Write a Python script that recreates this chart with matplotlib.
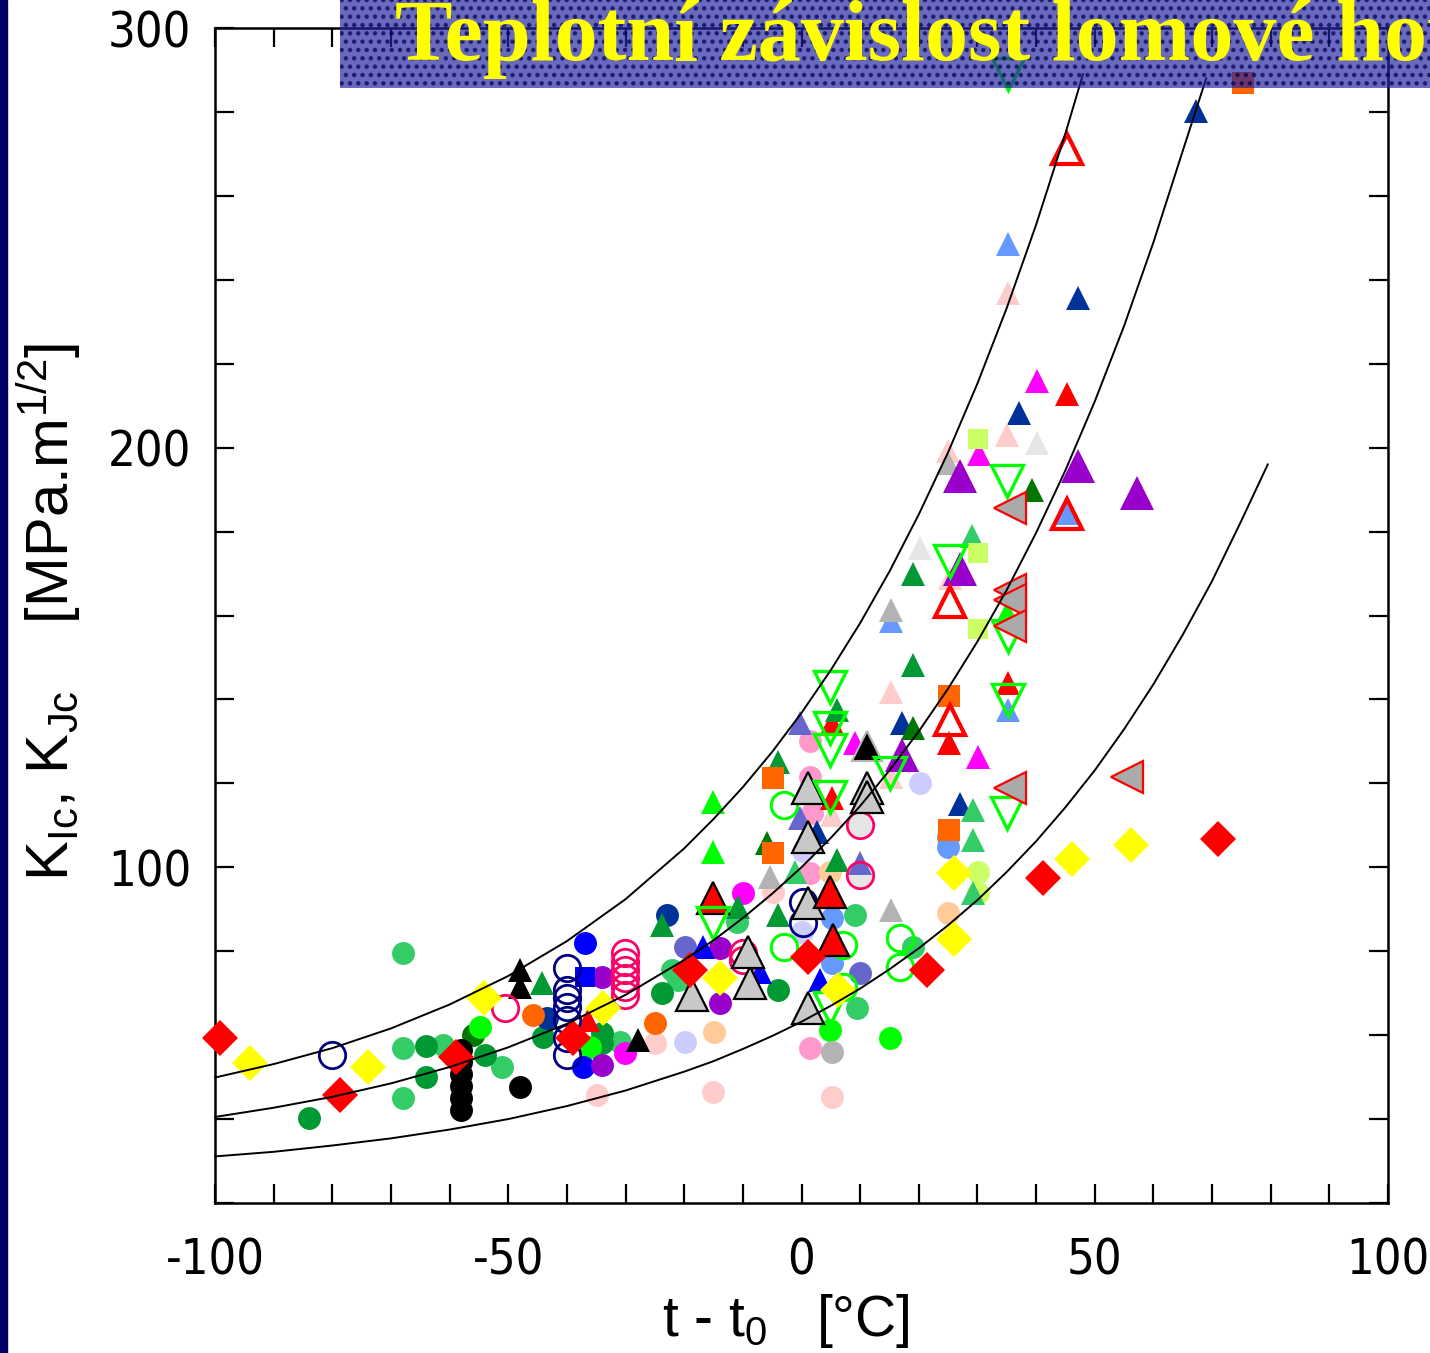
import matplotlib.pyplot as plt
from matplotlib.patches import Rectangle
from matplotlib.ticker import MultipleLocator

plt.rcParams['font.family'] = ['Liberation Sans', 'DejaVu Sans']
plt.rcParams['mathtext.default'] = 'regular'
plt.rcParams['axes.unicode_minus'] = False
plt.rcParams['hatch.linewidth'] = 2.0

# --- master curves (5 %, 50 %, 95 %) ---
upper_t = [-100, -90, -80, -70, -60, -50, -40, -30, -20, -15, -10, -5, 0, 5, 10, 15, 20, 25, 30, 35, 40, 45, 48]
upper_k = [49.9, 53.1, 56.9, 61.6, 67.3, 74.1, 82.4, 92.4, 104.5, 111.5, 119.1, 127.5, 136.8, 147.0, 158.2,
           170.5, 184.1, 198.9, 215.3, 233.3, 253.1, 274.9, 289.0]
median_t = [-100, -90, -80, -70, -60, -50, -40, -30, -20, -15, -10, -5, 0, 5, 10, 15, 20, 25, 30, 35, 40, 45,
            50, 55, 60, 65, 69]
median_k = [40.5, 42.7, 45.3, 48.5, 52.4, 57.1, 62.7, 69.6, 77.9, 82.6, 87.9, 93.7, 100.0, 107.0, 114.6, 123.1,
            132.4, 142.6, 153.8, 166.1, 179.7, 194.6, 211.0, 229.0, 248.9, 270.7, 288.0]
lower_t = [-100, -90, -80, -70, -60, -50, -40, -30, -20, -15, -10, -5, 0, 5, 10, 15, 20, 25, 30, 35, 40, 45,
           50, 55, 60, 65, 70, 75, 79.5]
lower_k = [31.1, 32.2, 33.7, 35.4, 37.5, 40.0, 43.1, 46.8, 51.3, 53.8, 56.7, 59.8, 63.2, 67.0, 71.1, 75.7, 80.7,
           86.2, 92.2, 98.9, 106.2, 114.3, 123.1, 132.9, 143.6, 155.4, 168.2, 182.6, 196.0]

# --- measured points: t - t0 [C] and K [MPa.m^1/2] per data set ---
c_msgreen_t = [-67.9, -67.9, -67.9, -61.1, -51.1, -30.9, -11.0, 9.1, 9.5, 19.0, -21.1, -22.1]
c_msgreen_k = [79.5, 56.9, 45.0, 57.6, 52.4, 58.3, 86.9, 88.6, 66.4, 81.0, 73.1, 75.5]
c_green_t = [-84.0, -64.0, -64.0, -54.0, -44.1, -34.0, -34.0, -23.8, -4.0]
c_green_k = [40.2, 57.4, 50.0, 55.2, 59.5, 60.5, 58.1, 70.0, 70.7]
c_dkgreen_t = [-56.0]
c_dkgreen_k = [60.0]
c_lime_t = [-54.8, -36.1, 4.9, 15.1]
c_lime_k = [61.9, 57.1, 61.2, 59.3]
c_blue_t = [-36.9, -37.3]
c_blue_k = [81.9, 52.4]
c_navy_t = [-22.9, -43.4]
c_navy_k = [88.6, 64.0]
c_purple_t = [-34.0, -34.0, -13.9, -13.9]
c_purple_k = [73.8, 52.9, 80.7, 67.6]
c_magenta_t = [-30.1, -10.0]
c_magenta_k = [55.7, 93.8]
c_hotpink_t = [1.4, 1.4, 1.4, 1.8, 1.4]
c_hotpink_k = [56.9, 130.2, 121.4, 112.9, 98.6]
c_ltpink_t = [-34.9, -25.0, -15.1, 5.2, -4.9]
c_ltpink_k = [45.7, 58.1, 46.4, 45.2, 94.0]
c_lavender_t = [-19.9, 0.1, 20.2, 0.3]
c_lavender_k = [58.3, 84.5, 120.2, 104.0]
c_orange_t = [-45.8, -25.0]
c_orange_k = [64.8, 62.9]
c_peach_t = [-14.9, 4.8, 25.0]
c_peach_k = [60.7, 98.8, 89.0]
c_gray_t = [5.2]
c_gray_k = [56.0]
c_slate_t = [-19.9, 10.0]
c_slate_k = [81.0, 74.8]
c_cornflower_t = [25.0, 25.0, 5.2, 5.2]
c_cornflower_k = [107.1, 104.8, 87.9, 77.1]
c_ltgray_t = [10.0, 10.0]
c_ltgray_k = [110.0, 98.1]
c_ygreen_t = [30.1, 30.1]
c_ygreen_k = [98.8, 93.8]
c_black_t = [-58.1, -58.1, -58.1, -58.1, -58.1, -58.1, -48.0]
c_black_k = [56.4, 53.6, 50.7, 47.9, 45.0, 42.1, 47.6]

o_navy_t = [-80.1, -40.0, -40.0, -40.0, -40.0, -40.0, -40.0, -40.0, 0.3, 0.3]
o_navy_k = [55.2, 76.0, 70.7, 68.8, 66.7, 63.6, 59.3, 55.2, 91.7, 86.7]
o_crimson_t = [-50.6, -30.1, -30.1, -30.1, -30.1, -30.1, -30.1, -10.0, -10.0, 10.0, 10.0]
o_crimson_k = [66.4, 79.5, 77.4, 75.5, 73.6, 71.4, 69.5, 79.5, 77.9, 110.0, 98.1]
o_lime_t = [-3.0, -3.0, 7.1, 7.1, 16.8, 16.8]
o_lime_k = [114.8, 81.0, 81.4, 71.4, 83.1, 76.2]

t_navy_t = [67.3, 47.1, 37.1, 17.1, 27.0, 2.6]
t_navy_k = [280.2, 235.7, 208.3, 134.5, 115.2, 108.3]
t_cornflower_t = [35.2, 15.3, 35.2, 45.3]
t_cornflower_k = [248.6, 158.8, 137.4, 184.5]
t_ltpink_t = [35.2, 25.0, 35.0, 15.3, 15.3, 25.3, 5.2]
t_ltpink_k = [236.9, 199.3, 202.9, 141.7, 121.4, 169.0, 112.4]
t_ltgray_t = [40.1, 20.2]
t_ltgray_k = [201.0, 176.2]
t_gray_t = [15.3, 15.3, 25.0, -5.4]
t_gray_k = [161.2, 89.8, 196.4, 97.6]
t_magenta_t = [40.1, 30.3, 30.1, 9.1]
t_magenta_k = [216.0, 198.6, 126.2, 129.5]
t_red_t = [45.3, 35.2, 25.1, 5.2, 5.2, -36.4]
t_red_k = [212.9, 143.8, 129.5, 134.3, 116.4, 63.6]
t_green_t = [19.0, 19.0, -4.0, 6.1, -23.8, -44.2, -4.0, -10.8, 6.1]
t_green_k = [170.0, 148.1, 125.0, 101.7, 86.2, 72.4, 88.6, 90.5, 137.4]
t_dkgreen_t = [19.0, 39.3, -5.9]
t_dkgreen_k = [133.3, 189.8, 105.7]
t_lime_t = [-15.1, -15.1, 35.0]
t_lime_k = [115.5, 103.6, 160.5]
t_msgreen_t = [29.2, 29.2, 29.1, 29.2, -1.1]
t_msgreen_k = [113.6, 106.4, 179.0, 93.8, 98.8]
t_slate_t = [-0.3, -0.3, 10.0]
t_slate_k = [134.5, 111.7, 101.0]
t_blue_t = [-16.8, -7.1, 3.1]
t_blue_k = [81.0, 75.0, 73.1]
t_black_t = [-48.0, -48.0, -27.9]
t_black_k = [75.5, 71.4, 58.8]

T_black_t = [11.1]
T_black_k = [129.0]
T_red_t = [-15.1, 4.8, 5.3]
T_red_k = [92.6, 94.0, 82.6]
T_gray_t = [-18.7, -8.8, -9.1, 1.1, 1.1, 1.1, 1.1, 11.1, 11.1]
T_gray_k = [69.5, 72.4, 79.8, 91.4, 66.4, 119.0, 107.1, 119.0, 116.7]
T_purple_t = [27.0, 47.1, 57.2, 27.0, 17.1]
T_purple_k = [193.3, 195.7, 189.3, 171.2, 126.7]
T_redopen_t = [45.3, 45.3, 25.3, 25.3]
T_redopen_k = [271.2, 184.3, 163.1, 135.0]
v_lime_t = [35.2, 4.8, 4.8, 4.8, 4.8, 4.8, -15.1, 35.2, 35.2, 35.0, 35.0, 25.3, 15.1]
v_lime_k = [289.0, 142.9, 133.3, 127.9, 116.7, 66.4, 86.7, 155.2, 139.8, 112.9, 192.1, 173.1, 122.4]
l_gray_t = [35.5, 35.5, 35.5, 35.5, 35.5, 55.5]
l_gray_k = [185.7, 166.0, 163.6, 157.6, 119.0, 121.4]

s_orange_t = [75.3, 25.1, 25.1, -4.9, -4.9]
s_orange_k = [286.9, 140.7, 108.8, 121.2, 103.3]
s_ygreen_t = [30.1, 30.1, 30.1]
s_ygreen_k = [202.1, 174.8, 156.9]
s_blue_t = [-36.9]
s_blue_k = [73.8]

d_red_t = [-99.1, -78.7, -58.9, -39.0, -19.0, 1.1, 21.4, 41.2, 71.0]
d_red_k = [59.3, 45.7, 54.8, 59.3, 75.5, 78.6, 75.5, 97.4, 106.7]
d_yellow_t = [-94.0, -73.9, -54.1, -33.8, -13.9, 6.2, 26.0, 26.0, 46.1, 56.2]
d_yellow_k = [53.3, 52.4, 68.8, 66.4, 73.6, 70.7, 98.6, 82.9, 101.9, 105.2]

fig = plt.figure(figsize=(14.3, 13.53), dpi=100)
ax = fig.add_axes([215 / 1430, 1 - 1203 / 1353, 1173 / 1430, 1175 / 1353])


def pts(t, k, marker, ms, face, edge=None, mew=0.0, z=3):
    ax.plot(t, k, ls='none', marker=marker, ms=ms, mfc=face,
            mec=edge if edge else face, mew=mew, clip_on=False, zorder=z)


# a. filled circles
pts(c_msgreen_t, c_msgreen_k, 'o', 16.5, '#33cc66')
pts(c_green_t, c_green_k, 'o', 16.5, '#009933')
pts(c_dkgreen_t, c_dkgreen_k, 'o', 16.5, '#007700')
pts(c_lime_t, c_lime_k, 'o', 16.5, '#00ff00')
pts(c_blue_t, c_blue_k, 'o', 16.5, '#0000ff')
pts(c_navy_t, c_navy_k, 'o', 16.5, '#003399')
pts(c_purple_t, c_purple_k, 'o', 16.5, '#9900cc')
pts(c_magenta_t, c_magenta_k, 'o', 16.5, '#ff00ff')
pts(c_hotpink_t, c_hotpink_k, 'o', 16.5, '#ff99cc')
pts(c_ltpink_t, c_ltpink_k, 'o', 16.5, '#ffcccc')
pts(c_lavender_t, c_lavender_k, 'o', 16.5, '#ccccff')
pts(c_orange_t, c_orange_k, 'o', 16.5, '#ff6600')
pts(c_peach_t, c_peach_k, 'o', 16.5, '#ffcc99')
pts(c_gray_t, c_gray_k, 'o', 16.5, '#b3b3b3')
pts(c_slate_t, c_slate_k, 'o', 16.5, '#6666cc')
pts(c_cornflower_t, c_cornflower_k, 'o', 16.5, '#6699ff')
pts(c_ltgray_t, c_ltgray_k, 'o', 16.5, '#e6e6e6')
pts(c_ygreen_t, c_ygreen_k, 'o', 16.5, '#ccff66')
pts(c_black_t, c_black_k, 'o', 16.5, 'black')

# b. small filled triangles and squares
pts(t_navy_t, t_navy_k, '^', 17, '#003399')
pts(t_cornflower_t, t_cornflower_k, '^', 17, '#6699ff')
pts(t_ltpink_t, t_ltpink_k, '^', 17, '#ffcccc')
pts(t_ltgray_t, t_ltgray_k, '^', 17, '#e6e6e6')
pts(t_gray_t, t_gray_k, '^', 17, '#b3b3b3')
pts(t_magenta_t, t_magenta_k, '^', 17, '#ff00ff')
pts(t_red_t, t_red_k, '^', 17, '#ff0000')
pts(t_green_t, t_green_k, '^', 17, '#009933')
pts(t_dkgreen_t, t_dkgreen_k, '^', 17, '#007700')
pts(t_lime_t, t_lime_k, '^', 17, '#00ff00')
pts(t_msgreen_t, t_msgreen_k, '^', 17, '#33cc66')
pts(t_slate_t, t_slate_k, '^', 17, '#6666cc')
pts(t_blue_t, t_blue_k, '^', 17, '#0000ff')
pts(t_black_t, t_black_k, '^', 17, 'black')
pts(s_orange_t, s_orange_k, 's', 16, '#ff6600')
pts(s_ygreen_t, s_ygreen_k, 's', 15, '#ccff66')
pts(s_blue_t, s_blue_k, 's', 15, '#0000ff')

# c. open circles
pts(o_navy_t, o_navy_k, 'o', 19, 'none', '#000080', 2.0, 4)
pts(o_crimson_t, o_crimson_k, 'o', 19, 'none', '#ff0066', 2.0, 4)
pts(o_lime_t, o_lime_k, 'o', 19, 'none', '#00ff00', 2.2, 4)

# d. big triangles
pts(T_black_t, T_black_k, '^', 22, 'black', '#b3b3b3', 1.5, 5)
pts(T_purple_t, T_purple_k, '^', 24, '#9900cc', z=5)
pts(T_gray_t, T_gray_k, '^', 23, '#c8c8c8', 'black', 1.6, 5)
pts(T_red_t, T_red_k, '^', 23, '#ff0000', 'black', 1.6, 5)
pts(T_redopen_t, T_redopen_k, '^', 21, 'none', '#ff0000', 3.0, 5)
pts(v_lime_t, v_lime_k, 'v', 23, 'none', '#00ff00', 2.4, 5)
pts(l_gray_t, l_gray_k, '<', 23, '#aaaaaa', '#ff0000', 1.6, 5)

# e. diamonds
pts(d_red_t, d_red_k, 'D', 18, '#ff0000', z=6)
pts(d_yellow_t, d_yellow_k, 'D', 18, '#ffff00', z=6)

# f. master curves
for t, k in [(upper_t, upper_k), (median_t, median_k), (lower_t, lower_k)]:
    ax.plot(t, k, color='black', lw=1.4, zorder=7, clip_on=False)

ax.set_xlim(-100, 100)
ax.set_ylim(20, 300)
ax.xaxis.set_major_locator(MultipleLocator(50))
ax.xaxis.set_minor_locator(MultipleLocator(10))
ax.yaxis.set_major_locator(MultipleLocator(100))
ax.yaxis.set_minor_locator(MultipleLocator(20))
ax.tick_params(which='both', direction='in', top=True, right=True, length=14, width=1.6)
ax.tick_params(axis='x', pad=24)
ax.tick_params(axis='y', pad=17)
for lab in ax.get_xticklabels() + ax.get_yticklabels():
    lab.set_family(['Liberation Sans Narrow', 'DejaVu Sans'])
    lab.set_stretch('condensed')
    lab.set_fontsize(35)
for sp in ax.spines.values():
    sp.set_linewidth(1.8)

ax.set_xlabel('t - t$_0$   [°C]', fontsize=41)
ax.xaxis.set_label_coords(0.487, -0.076)
ax.set_ylabel('K$_{Ic}$, K$_{Jc}$    [MPa.m$^{1/2}$]', fontsize=43)
ax.yaxis.set_label_coords(-0.112, 0.503)

# g. slide decoration: left strip and title banner
fig.add_artist(Rectangle((0, 0), 7 / 1430, 1, transform=fig.transFigure,
                         color='#000066', zorder=1))
fig.add_artist(Rectangle((340 / 1430, 1 - 88 / 1353), 1090 / 1430, 88 / 1353,
                         transform=fig.transFigure, facecolor='#2222a0', edgecolor='#000050',
                         hatch='..', lw=0, alpha=0.68, zorder=8))
fig.text(395 / 1430, 1 - 60 / 1353, 'Teplotní závislost lomové houževnatosti',
         family='Liberation Serif', weight='bold', fontsize=62, color='#ffff00',
         va='baseline', ha='left', zorder=9)

fig.savefig('out.png', dpi=100)
